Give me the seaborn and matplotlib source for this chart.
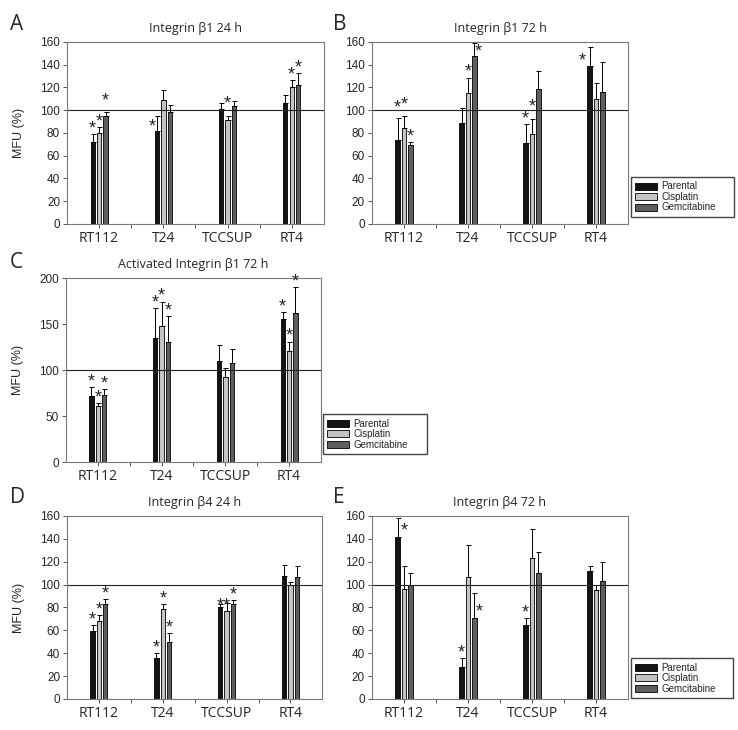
import numpy as np
import pandas as pd
import matplotlib
matplotlib.use('Agg')
import matplotlib.pyplot as plt
import seaborn as sns

groups = ['RT112', 'T24', 'TCCSUP', 'RT4']
treatments = ['Parental', 'Cisplatin', 'Gemcitabine']

# one list per treatment (Parental, Cisplatin, Gemcitabine), values per cell line
a_means = [[72, 81.3, 101, 106.5], [80.4, 109, 91, 120.5], [94.5, 98, 104, 122.5]]
a_errs = [[7, 13.7, 5.5, 7], [4.6, 8.5, 4, 6.1], [3.5, 7, 4.5, 10.5]]
a_stars = [[1, 1, 0, 0], [1, 0, 1, 1], [1, 0, 0, 1]]

b_means = [[73.7, 88.6, 70.8, 139], [84.8, 115, 78.7, 110], [69.3, 147.4, 119, 115.8]]
b_errs = [[19.9, 13.2, 16.7, 16.6], [9.7, 13.7, 14, 14], [2.4, 11.6, 15.5, 26.6]]
b_stars = [[1, 0, 1, 1], [1, 1, 1, 0], [1, 1, 0, 0]]

c_means = [[71.6, 135, 109.5, 155.6], [60.7, 147.6, 92.4, 121], [72.4, 130, 107.6, 161.8]]
c_errs = [[9.9, 32, 17.5, 7.4], [3.7, 26.9, 9.6, 10], [7.2, 29, 15.4, 28.2]]
c_stars = [[1, 1, 0, 1], [1, 1, 0, 1], [1, 1, 0, 1]]

d_means = [[59, 35.7, 80.4, 107.7], [68.2, 78.7, 77, 99.6], [83, 50.2, 82.8, 106.8]]
d_errs = [[5.5, 4.7, 2.4, 9], [5.3, 4.3, 7, 2.4], [4.7, 7.6, 3.7, 9.1]]
d_stars = [[1, 1, 1, 0], [1, 1, 1, 0], [1, 1, 1, 0]]

e_means = [[141.6, 27.7, 65, 112], [96.4, 107, 123, 95], [99.6, 70.4, 110, 103]]
e_errs = [[16.6, 7.9, 6, 4.5], [20.1, 28, 26, 4.3], [10.4, 22.6, 18.8, 17]]
e_stars = [[1, 1, 1, 0], [0, 0, 0, 0], [0, 1, 0, 0]]

colors = ['#141414', '#c4c4c4', '#5e5e5e']

sns.set_style('ticks')
plt.rcParams['font.family'] = ['Liberation Sans', 'DejaVu Sans']
TFONT = ['Open Sans', 'DejaVu Sans']

fig = plt.figure(figsize=(7.38, 7.30), dpi=100)


def panel(rect, means, errs, stars, title, ymax, step, tweaks={}, ylabel=True):
    ax = fig.add_axes(rect)
    rows = []
    for ti, t in enumerate(treatments):
        for gi, g in enumerate(groups):
            rows.append({'group': g, 'treatment': t, 'mfu': means[ti][gi]})
    df = pd.DataFrame(rows)
    sns.barplot(data=df, x='group', y='mfu', hue='treatment', order=groups,
                hue_order=treatments, palette=colors, width=0.30, gap=0.32,
                edgecolor='black', linewidth=0.6, errorbar=None, ax=ax)
    bar_conts = list(ax.containers)
    for ti, cont in enumerate(bar_conts):
        xs = [b.get_x() + b.get_width() / 2 for b in cont]
        tops = [b.get_height() for b in cont]
        ax.errorbar(xs, tops, yerr=[np.zeros(len(xs)), errs[ti]], fmt='none',
                    ecolor='black', elinewidth=0.7, capsize=1.8, capthick=0.7)
        for gi in range(len(groups)):
            if stars[ti][gi]:
                dx, dy = tweaks.get((gi, ti), (0, 0))
                ax.text(xs[gi] + dx, tops[gi] + errs[ti][gi] + ymax * 0.028 + dy, '*',
                        ha='center', va='center', fontsize=13)
    ax.axhline(100, color='#222222', lw=0.8)
    ax.set_xlim(-0.5, 3.5)
    ax.set_ylim(0, ymax)
    ax.set_yticks(np.arange(0, ymax + 1, step))
    ax.set_xticks([0.5, 1.5, 2.5], minor=True)
    ax.tick_params(axis='x', which='major', length=3, width=0.7, color='#555555',
                   labelsize=10, pad=2, labelfontfamily='Open Sans')
    ax.tick_params(axis='x', which='minor', length=3, width=0.7, color='#555555')
    ax.tick_params(axis='y', length=3, width=0.7, color='#555555', labelsize=8.5, pad=2)
    for s in ax.spines.values():
        s.set_visible(True)
        s.set_color('#7a7a7a')
        s.set_linewidth(0.8)
    ax.set_xlabel('')
    if ylabel:
        ax.set_ylabel('MFU (%)', fontsize=9)
        ax.yaxis.set_label_coords(-0.165, 0.5)
    else:
        ax.set_ylabel('')
    ax.set_title(title, fontsize=9, pad=7, family=TFONT)
    handles, labels = ax.get_legend_handles_labels()
    if ax.get_legend() is not None:
        ax.get_legend().remove()
    return ax, handles, labels


def add_legend(handles, labels, x, y, w, h):
    fig.legend(handles, labels, loc='lower left', bbox_to_anchor=(x, y, w, h),
               mode='expand', fontsize=7, frameon=True, fancybox=False,
               edgecolor='#444444', framealpha=1, borderpad=0.45, handlelength=2.2,
               handleheight=0.72, handletextpad=0.5, labelspacing=0.05, borderaxespad=0)


panel([0.0908, 0.6932, 0.348, 0.2493], a_means, a_errs, a_stars, 'Integrin β1 24 h', 160, 20,
      tweaks={(1, 0): (-0.08, -14), (2, 1): (0, 6), (0, 2): (0, 6)})
ax, h, l = panel([0.504, 0.6932, 0.347, 0.2493], b_means, b_errs, b_stars, 'Integrin β1 72 h', 160, 20,
                 tweaks={(1, 2): (0.06, -12), (3, 0): (-0.11, -16.6), (0, 0): (0, 4),
                         (0, 1): (0, 5.5), (2, 1): (0, 6)}, ylabel=False)
add_legend(h, l, 0.855, 0.703, 0.1396, 0.052)
ax, h, l = panel([0.0894, 0.3671, 0.3455, 0.252], c_means, c_errs, c_stars,
                 'Activated Integrin β1 72 h', 200, 50)
add_legend(h, l, 0.4377, 0.378, 0.141, 0.052)
panel([0.0908, 0.0425, 0.346, 0.2507], d_means, d_errs, d_stars, 'Integrin β4 24 h', 160, 20,
      tweaks={(2, 0): (0, -6), (2, 1): (0, -7)})
ax, h, l = panel([0.504, 0.0425, 0.347, 0.2507], e_means, e_errs, e_stars, 'Integrin β4 72 h', 160, 20,
                 tweaks={(0, 0): (0.11, -16), (1, 2): (0.08, -21)}, ylabel=False)
add_legend(h, l, 0.855, 0.0438, 0.138, 0.06)

for letter, x, y in [('A', 0.013, 0.966), ('B', 0.451, 0.966), ('C', 0.013, 0.641),
                     ('D', 0.013, 0.318), ('E', 0.451, 0.318)]:
    fig.text(x, y, letter, fontsize=15, family=TFONT, va='center', ha='left')

fig.savefig('out.png', dpi=100)
